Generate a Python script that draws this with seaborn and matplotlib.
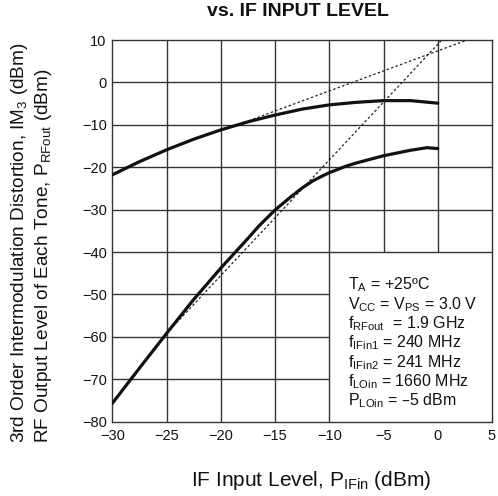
import pandas as pd
import matplotlib
matplotlib.use("Agg")
import matplotlib.pyplot as plt
import seaborn as sns

# values
if_level_out = [-30, -27.5, -25, -22.5, -20, -17.5, -15, -12.5, -10, -7.5, -5, -2.5, 0]
rf_out = [-21.8, -18.7, -15.9, -13.4, -11.2, -9.3, -7.7, -6.3, -5.3, -4.7, -4.3, -4.3, -4.9]

if_level_im3 = [-30, -27.5, -25, -22.5, -20, -17.5, -16.5, -15, -13.5, -12.5, -11.5, -10.5,
                -10, -8.5, -7.5, -5, -2.5, -1, 0]
im3 = [-75.7, -67.4, -59.2, -51.2, -43.8, -36.8, -33.9, -30.1, -26.9, -24.9, -23.2, -21.9,
       -21.3, -19.8, -19.0, -17.3, -16.0, -15.4, -15.6]

# extrapolated slope lines (start / end points)
fund_ext_x = [-19.5, 2.5]
fund_ext_y = [-11.0, 9.8]
im3_ext_x = [-25.0, 0.3]
im3_ext_y = [-59.2, 9.8]

x_ticks = [-30, -25, -20, -15, -10, -5, 0, 5]
y_ticks = [-80, -70, -60, -50, -40, -30, -20, -10, 0, 10]

conditions = [
    r"T$_\mathregular{A}$ = +25ºC",
    r"V$_\mathregular{CC}$ = V$_\mathregular{PS}$ = 3.0 V",
    r"f$_\mathregular{RFout}$  = 1.9 GHz",
    r"f$_\mathregular{IFin1}$ = 240 MHz",
    r"f$_\mathregular{IFin2}$ = 241 MHz",
    r"f$_\mathregular{LOin}$ = 1660 MHz",
    r"P$_\mathregular{LOin}$ = –5 dBm",
]

sns.set_style("white")
plt.rcParams["font.family"] = ["Liberation Sans", "DejaVu Sans"]
plt.rcParams["mathtext.default"] = "regular"

fig = plt.figure(figsize=(4.98, 4.96), dpi=100)
ax = fig.add_axes([112.3 / 498, 1 - 421.6 / 496, (492 - 112.3) / 498, (421.6 - 40) / 496])

df_out = pd.DataFrame({"x": if_level_out, "y": rf_out})
df_im3 = pd.DataFrame({"x": if_level_im3, "y": im3})

grid_kw = dict(color="#333333", lw=1.0, zorder=1)
# grid, leaving the condition box area clear
ax.vlines([-25, -20, -15, -10], -80, 10, **grid_kw)
ax.vlines([-5, 0], -40, 10, **grid_kw)
ax.hlines([0, -10, -20, -30, -40], -30, 5, **grid_kw)
ax.hlines([-50, -60, -70], -30, -10, **grid_kw)

ax.plot(fund_ext_x, fund_ext_y, color="#222222", lw=0.9, ls=(0, (2, 1.8)), zorder=2)
ax.plot(im3_ext_x, im3_ext_y, color="#222222", lw=0.9, ls=(0, (2, 1.8)), zorder=2)

sns.lineplot(data=df_out, x="x", y="y", ax=ax, color="#111111", lw=2.3, zorder=3)
sns.lineplot(data=df_im3, x="x", y="y", ax=ax, color="#111111", lw=2.3, zorder=3)

ax.set_xlim(-30, 5)
ax.set_ylim(-80, 10)
ax.set_xticks(x_ticks)
ax.set_yticks(y_ticks)
ax.tick_params(length=0, labelsize=10.5, colors="#111111")
ax.tick_params(axis="x", pad=5)
ax.tick_params(axis="y", pad=4)
ax.set_xlabel("")
ax.set_ylabel("")
for s in ax.spines.values():
    s.set_color("#333333")
    s.set_linewidth(1.0)

for i, line in enumerate(conditions):
    ax.text(0.621, 0.358 - i * 0.0506, line, transform=ax.transAxes,
            fontsize=11.5, va="center", ha="left", color="#111111")

fig.text(0.598, 1 - 11 / 496, "vs. IF INPUT LEVEL", fontsize=14,
         fontweight="bold", ha="center", va="center", color="#111111")
fig.text(311 / 498, 1 - 481 / 496, r"IF Input Level, P$_\mathregular{IFin}$ (dBm)",
         fontsize=15, ha="center", va="center", color="#111111")
fig.text(20 / 498, 1 - 443 / 496,
         r"3rd Order Intermodulation Distortion, IM$_\mathregular{3}$ (dBm)",
         rotation=90, fontsize=13.7, ha="center", va="bottom", color="#111111")
fig.text(43 / 498, 1 - 443 / 496,
         r"RF Output Level of Each Tone, P$_\mathregular{RFout}$ (dBm)",
         rotation=90, fontsize=13.7, ha="center", va="bottom", color="#111111")

fig.savefig("out.png", dpi=100)
plt.close(fig)
